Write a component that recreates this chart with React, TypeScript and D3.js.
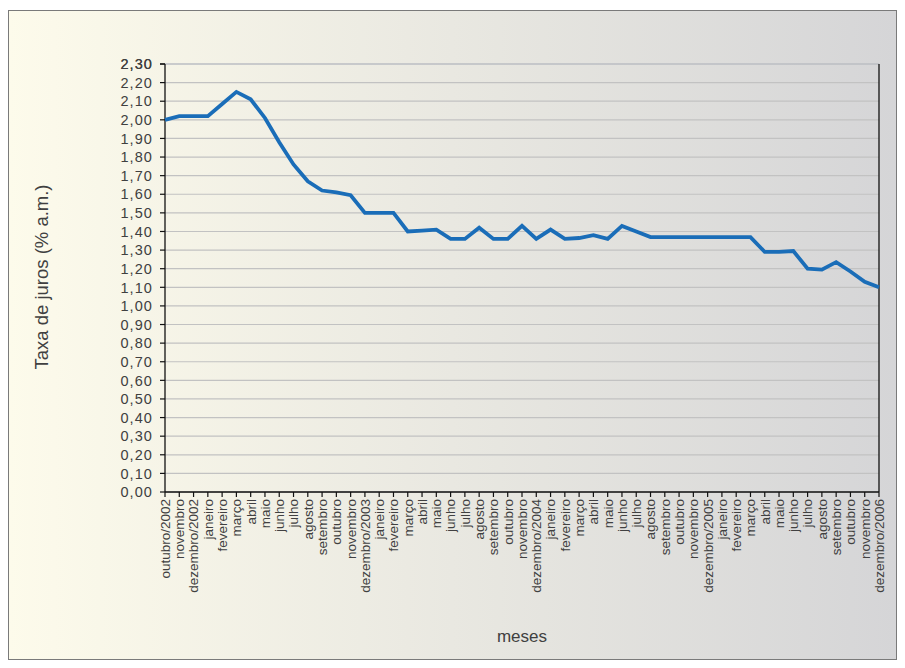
import React from "react";
import * as d3 from "d3";

const months: string[] = [
  "outubro/2002", "novembro", "dezembro/2002",
  "janeiro", "fevereiro", "março", "abril", "maio", "junho", "julho", "agosto", "setembro", "outubro", "novembro", "dezembro/2003",
  "janeiro", "fevereiro", "março", "abril", "maio", "junho", "julho", "agosto", "setembro", "outubro", "novembro", "dezembro/2004",
  "janeiro", "fevereiro", "março", "abril", "maio", "junho", "julho", "agosto", "setembro", "outubro", "novembro", "dezembro/2005",
  "janeiro", "fevereiro", "março", "abril", "maio", "junho", "julho", "agosto", "setembro", "outubro", "novembro", "dezembro/2006",
];

const taxa: number[] = [
  2.00, 2.02, 2.02, 2.02, 2.085, 2.15, 2.11, 2.01, 1.88, 1.76,
  1.67, 1.62, 1.61, 1.595, 1.50, 1.50, 1.50, 1.40, 1.405, 1.41,
  1.36, 1.36, 1.42, 1.36, 1.36, 1.43, 1.36, 1.41, 1.36, 1.365,
  1.38, 1.36, 1.43, 1.40, 1.37, 1.37, 1.37, 1.37, 1.37, 1.37,
  1.37, 1.37, 1.29, 1.29, 1.295, 1.20, 1.195, 1.235, 1.185, 1.13, 1.10,
];

const yTicks: number[] = d3.range(0, 24).map((i) => i / 10);

const yTitle = "Taxa de juros (% a.m.)";
const xTitle = "meses";

const W = 905;
const H = 668;
const left = 165;
const right = 879;
const top = 64;
const bottom = 492;
const font = "Liberation Sans, Arial, sans-serif";
const textColor = "#404040";

export default function App() {
  const x = d3.scalePoint<number>().domain(d3.range(months.length)).range([left, right]);
  const y = d3.scaleLinear().domain([0, 2.3]).range([bottom, top]);
  const line = d3
    .line<number>()
    .x((_, i) => x(i) as number)
    .y((d) => y(d));
  const fmt = (v: number) => v.toFixed(2).replace(".", ",");

  return (
    <svg
      width={W}
      height={H}
      style={{ position: "absolute", left: 0, top: 0 }}
      fontFamily={font}
    >
      <defs>
        <linearGradient id="bg" x1="0" x2="1" y1="0" y2="0">
          <stop offset="0" stopColor="#fdfbeb" />
          <stop offset="1" stopColor="#d5d5d7" />
        </linearGradient>
      </defs>
      <rect x={8.5} y={10.5} width={888} height={649} fill="url(#bg)" stroke="#7a7a7a" strokeWidth={1} />

      {/* gridlines */}
      {yTicks.map((t) => (
        <line key={"g" + t} x1={left} x2={right} y1={y(t)} y2={y(t)} stroke="#c2c2c2" strokeWidth={1.2} />
      ))}
      <line x1={left} x2={right} y1={y(2.3)} y2={y(2.3)} stroke="#b8bcc4" strokeWidth={1.2} />

      {/* y axis */}
      <line x1={left} x2={left} y1={top} y2={bottom} stroke="#111" strokeWidth={1.3} />
      {[...yTicks, 2.3].map((t) => (
        <g key={"yt" + t}>
          <line x1={left - 5} x2={left} y1={y(t)} y2={y(t)} stroke="#111" strokeWidth={1.2} />
          <text
            x={153}
            y={y(t)}
            dy="0.36em"
            textAnchor="end"
            fontSize={14.5}
            letterSpacing={1.1}
            fill={textColor}
          >
            {fmt(t)}
          </text>
        </g>
      ))}

      {/* right border */}
      <line x1={right} x2={right} y1={top} y2={bottom} stroke="#111" strokeWidth={1.3} />

      {/* x axis */}
      <line x1={left} x2={right} y1={bottom} y2={bottom} stroke="#111" strokeWidth={1.3} />
      {months.map((m, i) => (
        <g key={"xt" + i}>
          <line x1={x(i)} x2={x(i)} y1={bottom} y2={bottom + 5} stroke="#111" strokeWidth={1.2} />
          <text
            transform={`translate(${x(i)},${bottom + 7}) rotate(-90)`}
            dy="0.36em"
            textAnchor="end"
            fontSize={13.5}
            fill={textColor}
          >
            {m}
          </text>
        </g>
      ))}

      {/* data line */}
      <path d={line(taxa) || ""} fill="none" stroke="#1a6db8" strokeWidth={3.8} strokeLinejoin="miter" />

      {/* titles */}
      <text
        transform={`translate(41,277) rotate(-90)`}
        textAnchor="middle"
        dy="0.36em"
        fontSize={18.5}
        fill={textColor}
      >
        {yTitle}
      </text>
      <text x={(left + right) / 2} y={636} textAnchor="middle" dy="0.36em" fontSize={17} fill={textColor}>
        {xTitle}
      </text>
    </svg>
  );
}
